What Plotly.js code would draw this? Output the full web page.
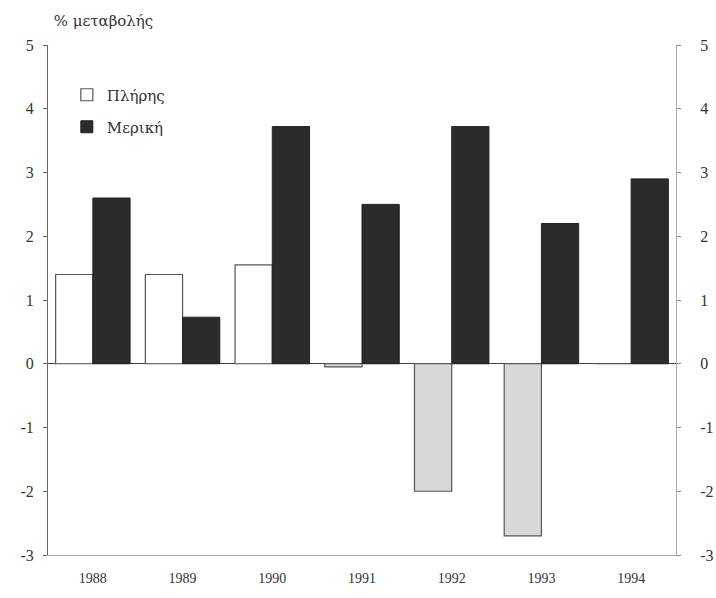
<!DOCTYPE html>
<html>
<head>
<meta charset="utf-8">
<script src="https://cdn.plot.ly/plotly-3.0.1.min.js"></script>
<style>html,body{margin:0;padding:0;background:#fff;}#chart{width:716px;height:598px;}</style>
</head>
<body>
<div id="chart"></div>
<script>
const years = ['1988', '1989', '1990', '1991', '1992', '1993', '1994'];
const full = [1.4, 1.4, 1.55, -0.05, -2.0, -2.7, 0];
const partial = [2.6, 0.73, 3.72, 2.5, 3.72, 2.2, 2.9];
const yTicks = [-3, -2, -1, 0, 1, 2, 3, 4, 5];
const yTickText = ['-3', '-2', '-1', '0', '1', '2', '3', '4', '5'];
const seriesNames = ['Πλήρης', 'Μερική'];

const fullColors = full.map(v => v < 0 ? '#d8d8d8' : '#ffffff');
const fam = 'Liberation Serif, DejaVu Serif, serif';
const gfam = 'DejaVu Serif, Liberation Serif, serif';
const f = (size, family) => ({family: family || fam, size: size, color: '#333'});

const traces = [
  {type: 'bar', name: seriesNames[0], x: years, y: full, legend: 'legend',
   marker: {color: fullColors, line: {color: '#555', width: 1.2}}},
  {type: 'bar', name: seriesNames[1], x: years, y: partial, legend: 'legend2',
   marker: {color: '#2b2b2b', line: {color: '#222', width: 1}}},
  {type: 'scatter', mode: 'markers', x: years, y: partial, yaxis: 'y2',
   marker: {opacity: 0}, showlegend: false, hoverinfo: 'skip'}
];

const legendBase = {xanchor: 'left', yanchor: 'middle', bgcolor: 'rgba(0,0,0,0)',
                    font: f(15, gfam), itemwidth: 30};

const layout = {
  width: 716, height: 598,
  margin: {l: 48, r: 40, t: 45, b: 43},
  paper_bgcolor: '#fff', plot_bgcolor: '#fff',
  font: f(15),
  barmode: 'group', bargap: 0.17, bargroupgap: 0,
  title: {text: '% μεταβολής', x: 0.075, xanchor: 'left', y: 0.965, yanchor: 'middle',
          font: f(15, gfam)},
  showlegend: true,
  legend: Object.assign({x: 0.03, y: (555 - 95) / 510}, legendBase),
  legend2: Object.assign({x: 0.03, y: (555 - 127) / 510}, legendBase),
  xaxis: {type: 'category', showgrid: false, showline: true, linecolor: '#aaa', linewidth: 1,
          ticks: '', tickfont: f(14), zeroline: false, ticklabelstandoff: 10},
  yaxis: {range: [-3, 5], tickvals: yTicks, ticktext: yTickText, showgrid: false,
          showline: true, linecolor: '#666', linewidth: 1, ticks: 'outside', ticklen: 4,
          tickcolor: '#666', zeroline: true, zerolinecolor: '#444', zerolinewidth: 1.2,
          tickfont: f(16), ticklabelstandoff: 6},
  yaxis2: {range: [-3, 5], tickvals: yTicks, ticktext: yTickText, overlaying: 'y', side: 'right',
           showgrid: false, showline: true, linecolor: '#aaa', linewidth: 1, ticks: 'outside',
           ticklen: 4, tickcolor: '#888', zeroline: false,
           tickfont: f(16), ticklabelstandoff: 16}
};

Plotly.newPlot('chart', traces, layout, {displayModeBar: false, staticPlot: true});
</script>
</body>
</html>
